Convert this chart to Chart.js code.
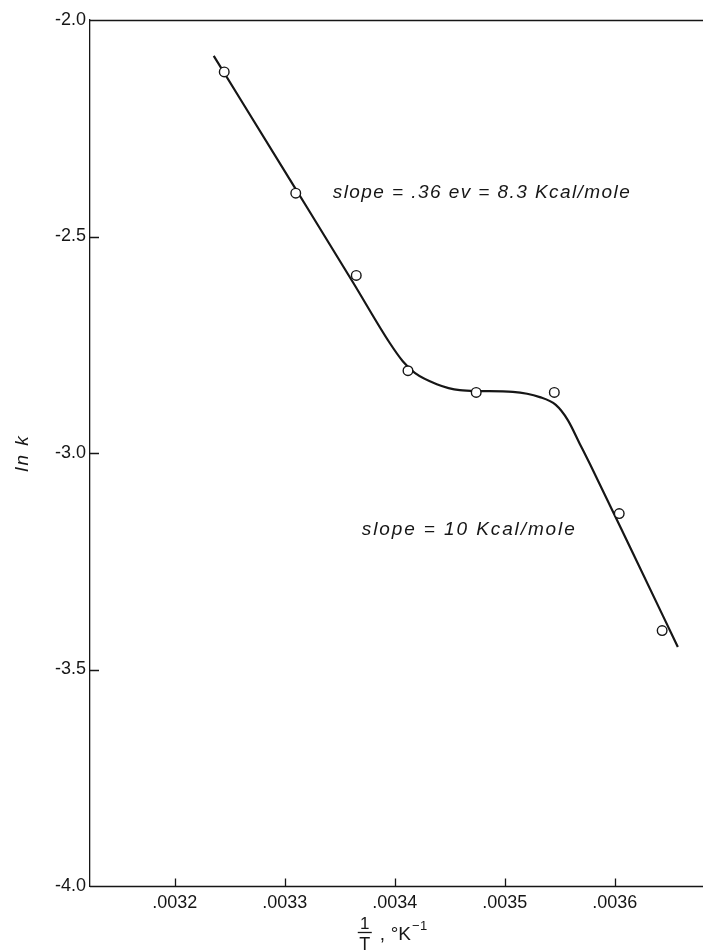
<!DOCTYPE html>
<html>
<head>
<meta charset="utf-8">
<script src="https://cdn.jsdelivr.net/npm/chart.js@4.4.1/dist/chart.umd.min.js"></script>
<style>
html,body{margin:0;padding:0;background:#fff;}
#c{display:block;}
</style>
</head>
<body>
<canvas id="c" width="703" height="950"></canvas>
<script>
// ---- data ----
const xTickValues = [0.0032, 0.0033, 0.0034, 0.0035, 0.0036];
const yTickValues = [-2.0, -2.5, -3.0, -3.5, -4.0];

// measured points (open circles)
const pointX = [0.003245, 0.003310, 0.003365, 0.003412, 0.003474, 0.003545, 0.003604, 0.003643];
const pointY = [-2.12, -2.40, -2.59, -2.81, -2.86, -2.86, -3.14, -3.41];

// hand-drawn fitted curve
const curveX = [0.00323545, 0.00330818, 0.00336182, 0.00339545, 0.00340727, 0.00341818, 0.00343818, 0.00345909,
                0.00347727, 0.00350727, 0.00353182, 0.00354636, 0.00355727, 0.00356818, 0.00357727, 0.00361636, 0.00365727];
const curveY = [-2.083, -2.383, -2.605, -2.746, -2.788, -2.815, -2.841, -2.855,
                -2.857, -2.859, -2.871, -2.889, -2.924, -2.979, -3.025, -3.231, -3.448];

const annotationTexts = ["slope = .36 ev = 8.3 Kcal/mole", "slope = 10 Kcal/mole"];
const yAxisTitle = "ln k";

// ---- build chart ----
const INK = '#161616';
const FONT = "'Liberation Sans', Arial, sans-serif";

const pointData = pointX.map((x, i) => ({x: x, y: pointY[i]}));
const curveData = curveX.map((x, i) => ({x: x, y: curveY[i]}));

const decorPlugin = {
  id: 'decor',
  afterDraw(chart, args, opts) {
    const ctx = chart.ctx;
    const xs = chart.scales.x, ys = chart.scales.y;
    const a = chart.chartArea;
    ctx.save();
    ctx.strokeStyle = INK;
    ctx.lineWidth = 1.3;
    // top frame line and bottom axis line, both running to the page edge
    const yTop = Math.round(a.top) + 0.5;
    const yBot = Math.round(a.bottom) + 0.5;
    ctx.beginPath();
    ctx.moveTo(a.left, yTop);
    ctx.lineTo(chart.width, yTop);
    ctx.moveTo(a.left, yBot);
    ctx.lineTo(chart.width, yBot);
    ctx.stroke();
    // inward tick marks
    ctx.beginPath();
    xTickValues.forEach(v => {
      const px = Math.round(xs.getPixelForValue(v)) + 0.5;
      ctx.moveTo(px, yBot);
      ctx.lineTo(px, yBot - 8);
    });
    yTickValues.forEach(v => {
      if (v === -2.0 || v === -4.0) return;
      const py = Math.round(ys.getPixelForValue(v)) + 0.5;
      ctx.moveTo(a.left, py);
      ctx.lineTo(a.left + 9, py);
    });
    ctx.stroke();

    // annotations (italic lettering)
    ctx.fillStyle = INK;
    ctx.textBaseline = 'middle';
    ctx.textAlign = 'left';
    opts.notes.forEach(n => {
      ctx.font = "italic 19px " + FONT;
      const x0 = xs.getPixelForValue(n.x0), x1 = xs.getPixelForValue(n.x1);
      const py = ys.getPixelForValue(n.y);
      ctx.letterSpacing = '0px';
      const w = ctx.measureText(n.text).width;
      const sp = (x1 - x0 - w) / (n.text.length - 1);
      ctx.letterSpacing = sp.toFixed(2) + 'px';
      ctx.fillText(n.text, x0, py);
      ctx.letterSpacing = '0px';
    });

    // y axis title (rotated, italic)
    ctx.save();
    ctx.translate(23, (ys.getPixelForValue(-3.0)));
    ctx.rotate(-Math.PI / 2);
    ctx.textAlign = 'center';
    ctx.textBaseline = 'middle';
    ctx.font = "italic 19px " + FONT;
    ctx.letterSpacing = '2px';
    ctx.fillText(yAxisTitle, 0, 0);
    ctx.letterSpacing = '0px';
    ctx.restore();

    // x axis title: fraction 1/T , °K^-1
    const fx = xs.getPixelForValue(0.0034) - 30;
    ctx.textAlign = 'center';
    ctx.textBaseline = 'alphabetic';
    ctx.font = "17px " + FONT;
    ctx.fillText("1", fx, 929);
    ctx.beginPath();
    ctx.lineWidth = 1.3;
    ctx.moveTo(fx - 7, 932.5);
    ctx.lineTo(fx + 7, 932.5);
    ctx.stroke();
    ctx.font = "18px " + FONT;
    ctx.fillText("T", fx, 950);
    ctx.textAlign = 'left';
    ctx.font = "19px " + FONT;
    ctx.fillText(",", fx + 15, 940);
    ctx.fillText("\u00B0K", fx + 26, 940);
    const kw = ctx.measureText("\u00B0K").width;
    ctx.font = "13px " + FONT;
    ctx.fillText("\u2212", fx + 27 + kw, 930);
    ctx.fillText("1", fx + 35 + kw, 930);
    ctx.restore();
  }
};

new Chart(document.getElementById('c'), {
  type: 'scatter',
  data: {
    datasets: [
      {
        label: 'measured',
        data: pointData,
        showLine: false,
        pointRadius: 4.8,
        pointBackgroundColor: '#ffffff',
        pointBorderColor: INK,
        pointBorderWidth: 1.4,
        order: 0
      },
      {
        label: 'curve',
        data: curveData,
        showLine: true,
        borderColor: INK,
        borderWidth: 2.2,
        pointRadius: 0,
        cubicInterpolationMode: 'monotone',
        fill: false,
        order: 1
      }
    ]
  },
  options: {
    responsive: false,
    devicePixelRatio: 1,
    animation: false,
    layout: { padding: { top: 20, left: 0, right: 0, bottom: 0 } },
    plugins: {
      legend: { display: false },
      tooltip: { enabled: false },
      decor: {
        notes: [
          { text: annotationTexts[0], x0: 0.0033436, x1: 0.0036136, y: -2.40 },
          { text: annotationTexts[1], x0: 0.0033700, x1: 0.0035636, y: -3.178 }
        ]
      }
    },
    scales: {
      x: {
        type: 'linear',
        min: 0.003123,
        max: 0.0036745,
        afterBuildTicks: s => { s.ticks = xTickValues.map(v => ({ value: v })); },
        afterFit: s => { s.height = 64; s.paddingLeft = 0; s.paddingRight = 0; },
        grid: { display: false, drawTicks: false },
        border: { display: false },
        ticks: {
          color: INK,
          font: { family: FONT, size: 18 },
          padding: 6,
          maxRotation: 0,
          autoSkip: false,
          callback: v => v.toFixed(4).replace(/^0/, '')
        }
      },
      y: {
        type: 'linear',
        min: -4.0,
        max: -2.0,
        afterBuildTicks: s => { s.ticks = yTickValues.map(v => ({ value: v })); },
        afterFit: s => { s.width = 90; s.paddingTop = 0; s.paddingBottom = 0; },
        grid: { display: false, drawTicks: false },
        border: { display: true, color: INK, width: 1.3 },
        ticks: {
          color: INK,
          font: { family: FONT, size: 18 },
          padding: 4,
          autoSkip: false,
          callback: v => (v).toFixed(1)
        }
      }
    }
  },
  plugins: [decorPlugin]
});
</script>
</body>
</html>
